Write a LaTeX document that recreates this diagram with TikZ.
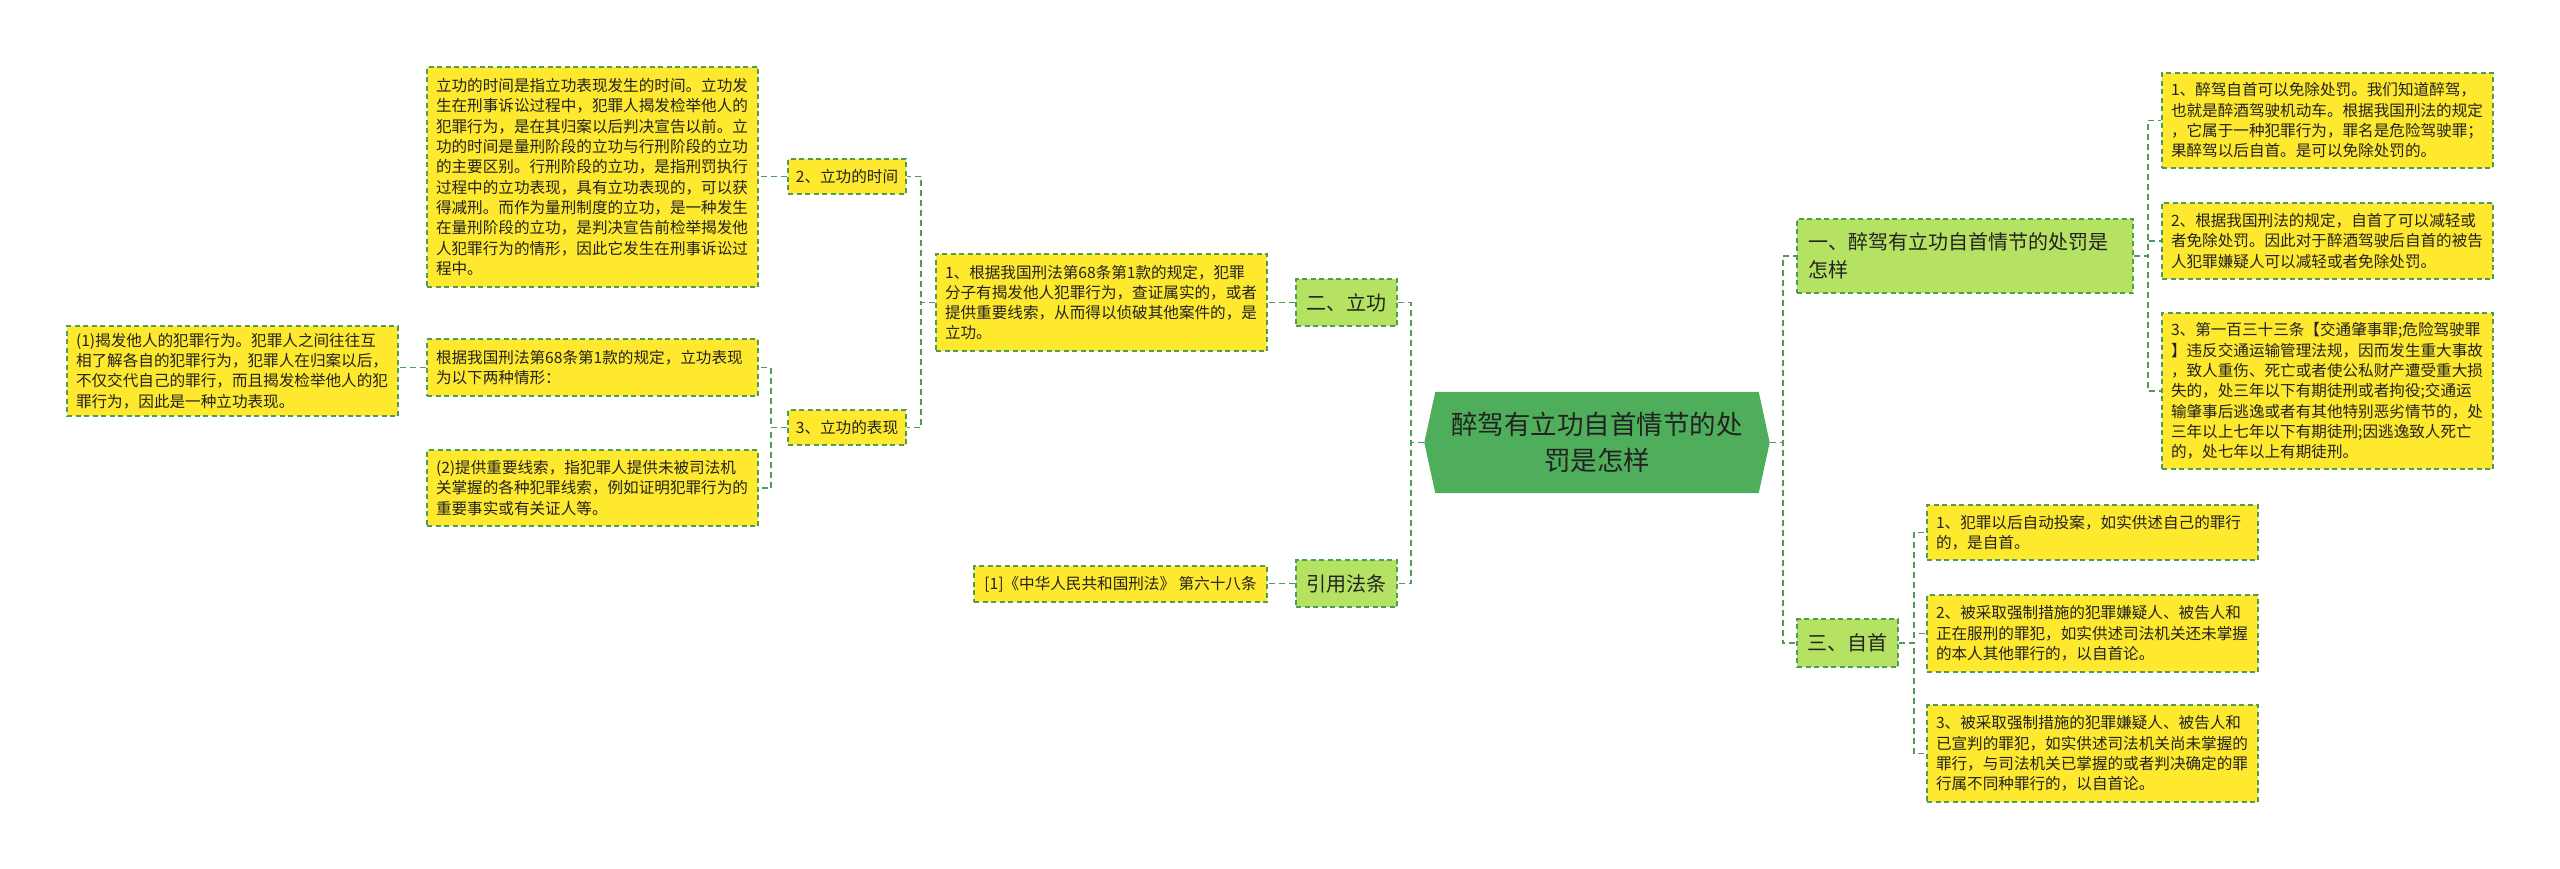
\documentclass[tikz,border=0pt]{standalone}
\usepackage{fontspec}
\setmainfont{Noto Sans CJK SC}
\usetikzlibrary{backgrounds}
\definecolor{lc}{HTML}{4E9C56}
\definecolor{yel}{HTML}{FFE92E}
\definecolor{lgr}{HTML}{B5E263}
\definecolor{dgr}{HTML}{4FAE5B}
\definecolor{txt}{HTML}{222222}
\begin{document}
\begin{tikzpicture}[x=1pt,y=-1pt,
 boxbase/.style={draw=lc, line width=1.5pt, dash pattern=on 5pt off 3.5pt, inner sep=0pt, text=txt},
 leafbox/.style={boxbase, fill=yel, font=\fontsize{15.6}{20.3}\selectfont, align=left},
 lvone/.style={boxbase, fill=lgr, font=\fontsize{20}{27.7}\selectfont},
 rootbox/.style={inner sep=0pt, text=txt, font=\fontsize{26.5}{36.7}\selectfont, align=center},
 connline/.style={draw=lc, line width=1.8pt, dash pattern=on 6pt off 4pt},
]
\useasboundingbox (0,0) rectangle (2560,869);

% root
\node[rootbox, minimum width=323pt, minimum height=101pt] (root) at (1597,442.5) {醉驾有立功自首情节的处\\罚是怎样};
\coordinate (rootW) at ([xshift=-11pt]root.west);
\coordinate (rootE) at ([xshift=11pt]root.east);
\begin{pgfonlayer}{background}
\fill[dgr] (rootW) -- (root.north west) -- (root.north east) -- (rootE) -- (root.south east) -- (root.south west) -- cycle;
\end{pgfonlayer}

% right level one
\node[lvone, align=left, minimum width=336pt, minimum height=74pt, text width=314pt] (A) at (1965,256) {一、醉驾有立功自首情节的处罚是\\怎样};
\node[lvone, align=center, minimum width=101pt, minimum height=48pt] (B) at (1847.5,643) {三、自首};

% left level one
\node[lvone, align=center, minimum width=101pt, minimum height=47pt] (C) at (1346.5,302.5) {二、立功};
\node[lvone, align=center, minimum width=101pt, minimum height=47pt] (D) at (1346.5,583.5) {引用法条};

% A children
\node[leafbox, minimum width=331pt, minimum height=95pt, text width=313pt] (A1) at (2327.5,120.5) {1、醉驾自首可以免除处罚。我们知道醉驾，\\也就是醉酒驾驶机动车。根据我国刑法的规定\\，它属于一种犯罪行为，罪名是危险驾驶罪；\\果醉驾以后自首。是可以免除处罚的。};
\node[leafbox, minimum width=331pt, minimum height=76pt, text width=313pt] (A2) at (2327.5,241) {2、根据我国刑法的规定，自首了可以减轻或\\者免除处罚。因此对于醉酒驾驶后自首的被告\\人犯罪嫌疑人可以减轻或者免除处罚。};
\node[leafbox, minimum width=331pt, minimum height=156pt, text width=313pt] (A3) at (2327.5,391) {3、第一百三十三条【交通肇事罪;危险驾驶罪\\】违反交通运输管理法规，因而发生重大事故\\，致人重伤、死亡或者使公私财产遭受重大损\\失的，处三年以下有期徒刑或者拘役;交通运\\输肇事后逃逸或者有其他特别恶劣情节的，处\\三年以上七年以下有期徒刑;因逃逸致人死亡\\的，处七年以上有期徒刑。};

% B children
\node[leafbox, minimum width=331pt, minimum height=55pt, text width=313pt] (B1) at (2092.5,532.5) {1、犯罪以后自动投案，如实供述自己的罪行\\的，是自首。};
\node[leafbox, minimum width=331pt, minimum height=77pt, text width=313pt] (B2) at (2092.5,633.5) {2、被采取强制措施的犯罪嫌疑人、被告人和\\正在服刑的罪犯，如实供述司法机关还未掌握\\的本人其他罪行的，以自首论。};
\node[leafbox, minimum width=331pt, minimum height=97pt, text width=313pt] (B3) at (2092.5,753.5) {3、被采取强制措施的犯罪嫌疑人、被告人和\\已宣判的罪犯，如实供述司法机关尚未掌握的\\罪行，与司法机关已掌握的或者判决确定的罪\\行属不同种罪行的，以自首论。};

% C, D children
\node[leafbox, minimum width=331pt, minimum height=97pt, text width=313pt] (C1) at (1101.5,302.5) {1、根据我国刑法第68条第1款的规定，犯罪\\分子有揭发他人犯罪行为，查证属实的，或者\\提供重要线索，从而得以侦破其他案件的，是\\立功。};
\node[leafbox, align=center, minimum width=293pt, minimum height=36pt] (D1) at (1120.5,584) {[1]《中华人民共和国刑法》 第六十八条};

% C1 children
\node[leafbox, align=center, minimum width=118pt, minimum height=35pt] (C1a) at (847,176.5) {2、立功的时间};
\node[leafbox, align=center, minimum width=118pt, minimum height=35pt] (C1b) at (847,427.5) {3、立功的表现};

\node[leafbox, minimum width=331pt, minimum height=220pt, text width=313pt] (C1a1) at (592.5,177) {立功的时间是指立功表现发生的时间。立功发\\生在刑事诉讼过程中，犯罪人揭发检举他人的\\犯罪行为，是在其归案以后判决宣告以前。立\\功的时间是量刑阶段的立功与行刑阶段的立功\\的主要区别。行刑阶段的立功，是指刑罚执行\\过程中的立功表现，具有立功表现的，可以获\\得减刑。而作为量刑制度的立功，是一种发生\\在量刑阶段的立功，是判决宣告前检举揭发他\\人犯罪行为的情形，因此它发生在刑事诉讼过\\程中。};

\node[leafbox, minimum width=331pt, minimum height=57pt, text width=313pt] (C1b1) at (592.5,367.5) {根据我国刑法第68条第1款的规定，立功表现\\为以下两种情形：};
\node[leafbox, minimum width=331pt, minimum height=76pt, text width=313pt] (C1b2) at (592.5,488) {(2)提供重要线索，指犯罪人提供未被司法机\\关掌握的各种犯罪线索，例如证明犯罪行为的\\重要事实或有关证人等。};
\node[leafbox, minimum width=331pt, minimum height=90pt, text width=313pt] (C1b1a) at (232.5,371) {(1)揭发他人的犯罪行为。犯罪人之间往往互\\相了解各自的犯罪行为，犯罪人在归案以后，\\不仅交代自己的罪行，而且揭发检举他人的犯\\罪行为，因此是一种立功表现。};

% connectors
\draw[connline] (rootE) -- ++(13,0) |- (A.west);
\draw[connline] (rootE) -- ++(13,0) |- (B.west);
\draw[connline] (rootW) -- ++(-13,0) |- (C.east);
\draw[connline] (rootW) -- ++(-13,0) |- (D.east);
\draw[connline] (A.east) -- ++(14,0) |- (A1.west);
\draw[connline] (A.east) -- ++(14,0) |- (A2.west);
\draw[connline] (A.east) -- ++(14,0) |- (A3.west);
\draw[connline] (B.east) -- ++(15,0) |- (B1.west);
\draw[connline] (B.east) -- ++(15,0) |- (B2.west);
\draw[connline] (B.east) -- ++(15,0) |- (B3.west);
\draw[connline] (C.west) -- (C1.east);
\draw[connline] (D.west) -- (D.west -| D1.east);
\draw[connline] (C1.west) -- ++(-14,0) |- (C1a.east);
\draw[connline] (C1.west) -- ++(-14,0) |- (C1b.east);
\draw[connline] (C1a.west) -- (C1a.west -| C1a1.east);
\draw[connline] (C1b.west) -- ++(-16,0) |- (C1b1.east);
\draw[connline] (C1b.west) -- ++(-16,0) |- (C1b2.east);
\draw[connline] (C1b1.west) -- (C1b1.west -| C1b1a.east);
\end{tikzpicture}
\end{document}
